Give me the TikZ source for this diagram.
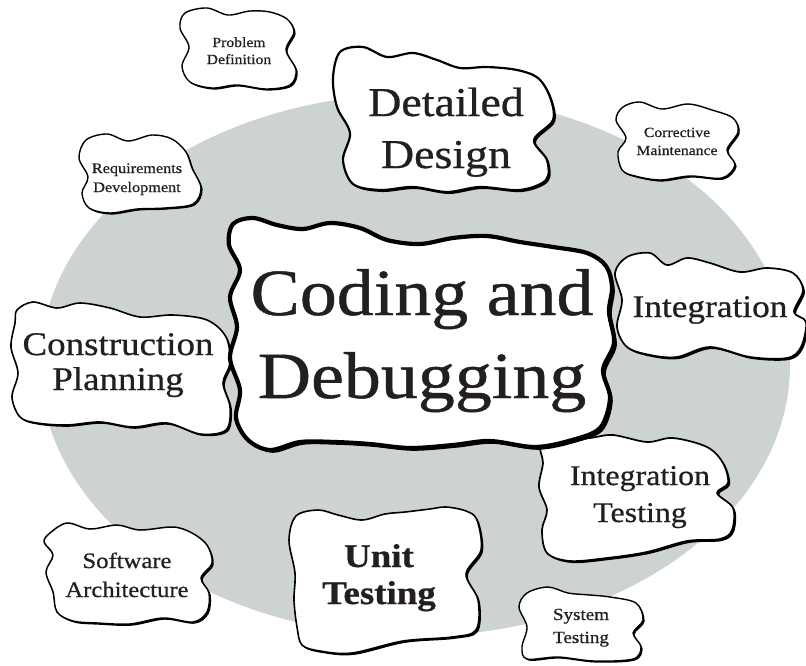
\documentclass[tikz,border=0pt]{standalone}
\usepackage{fontspec}
\setmainfont{Liberation Serif}[FakeStretch=1.12, FakeBold=0.7]
\definecolor{ellgray}{RGB}{205,211,211}
\definecolor{ink}{RGB}{35,31,32}
\tikzset{
  blobface/.style={fill=white, draw=black, line join=round},
  blobshadow/.style={fill=black},
  lbl/.style={anchor=base, inner sep=0pt, text=ink},
}
\newcommand\twol[2]{\begin{tabular}[t]{@{}c@{}}#1\\#2\end{tabular}}
\newcommand\fs[2]{\fontsize{#1}{#2}\selectfont}
% #1 line width, #2 shadow offset, #3 coordinates
\newcommand\drawblob[3]{%
  \fill[blobshadow, xshift=#2pt, yshift=-#2pt] plot[smooth cycle, tension=0.55] coordinates {#3};
  \path[blobface, line width=#1pt] plot[smooth cycle, tension=0.55] coordinates {#3};
}
\begin{document}
\begin{tikzpicture}[x=1pt, y=-1pt]
\useasboundingbox (0,0) rectangle (806,665);
\clip (0,0) rectangle (806,665);
\fill[ellgray] (415,365) ellipse [x radius=375pt, y radius=271pt];

% Problem Definition
\drawblob{1.4}{1.6}{(185,13) (207,8) (228,15) (250,11) (270,12) (287,19) (294,32) (286,50) (296,70) (290,85) (266,89) (237,85) (212,88) (190,82) (182,66) (189,47) (180,28)}
\node[lbl, font=\fs{14}{17}] (pd) at (239,47) {\twol{Problem}{Definition}};

% Detailed Design
\drawblob{2.2}{2.0}{(340,52) (363,47) (387,57) (413,53) (437,60) (460,68) (487,67) (517,70) (538,78) (550,97) (553,120) (534,140) (547,160) (546,180) (520,190) (480,187) (447,192) (413,187) (380,190) (353,184) (343,160) (350,133) (337,107) (333,78)}
\node[lbl, font=\fs{41}{52}] (dd) at (446,116) {\twol{Detailed}{Design}};

% Corrective Maintenance
\drawblob{1.4}{1.6}{(623,107) (640,102) (662,109) (688,104) (712,110) (733,118) (738,132) (727,150) (735,165) (722,178) (690,176) (660,180) (635,176) (622,170) (618,152) (626,138) (616,120)}
\node[lbl, font=\fs{14}{18}] (cm) at (677,137) {\twol{Corrective}{Maintenance}};

% Requirements Development
\drawblob{1.4}{1.6}{(86,140) (107,134) (128,141) (152,135) (172,139) (186,152) (192,168) (201,188) (193,204) (165,208) (137,209) (110,213) (89,208) (82,193) (88,177) (79,158)}
\node[lbl, font=\fs{14.5}{19}] (rd) at (137,173) {\twol{Requirements}{Development}};

% Construction Planning
\drawblob{1.6}{1.8}{(17,310) (33,302) (57,308) (80,303) (110,308) (140,317) (173,315) (207,320) (226,337) (230,363) (223,383) (230,407) (226,430) (200,434) (167,423) (133,427) (100,422) (67,425) (37,423) (20,417) (12,397) (18,373) (11,347) (15,323)}
\node[lbl, font=\fs{33}{35}] (cp) at (118,355) {\twol{Construction}{Planning}};

% Integration
\drawblob{1.7}{2.0}{(627,257) (650,253) (667,265) (687,258) (710,263) (740,272) (767,268) (793,273) (803,290) (794,312) (806,322) (801,347) (787,358) (750,357) (710,347) (677,357) (650,355) (627,347) (617,327) (622,300) (615,273)}
\node[lbl, font=\fs{31.5}{35}] (in) at (710,317) {Integration};

% Integration Testing
\drawblob{1.7}{2.0}{(541,446) (562,440) (590,438) (613,435) (647,442) (673,438) (707,447) (723,463) (728,483) (717,493) (733,508) (732,530) (720,539) (687,541) (647,552) (607,558) (570,561) (547,553) (542,530) (547,510) (539,487) (543,463)}
\node[lbl, font=\fs{28.5}{37}] (it) at (640,485) {\twol{Integration}{Testing}};

% Coding and Debugging
\drawblob{4.2}{2.8}{(233,224) (253,218) (277,225) (303,229) (330,223) (360,228) (387,240) (420,244) (453,238) (487,236) (520,242) (553,247) (587,253) (606,266) (612,287) (609,312) (614,343) (603,370) (610,398) (600,428) (572,440) (535,447) (490,441) (453,445) (410,448) (370,444) (335,442) (300,442) (270,450) (248,440) (236,418) (240,390) (230,358) (237,327) (230,297) (240,270) (229,245)}
\node[lbl, font=\fs{66}{83}] (cd) at (422,315) {\twol{Coding and}{Debugging}};

% Software Architecture
\drawblob{1.5}{1.7}{(50,533) (67,523) (90,529) (117,525) (140,530) (173,527) (192,533) (207,545) (212,563) (201,578) (209,593) (207,612) (193,622) (163,618) (130,624) (97,623) (73,621) (57,612) (53,592) (46,572) (53,555) (44,542)}
\node[lbl, font=\fs{22}{29}] (sa) at (127,568) {\twol{Software}{Architecture}};

% Unit Testing
\drawblob{1.6}{1.9}{(296,516) (318,510) (338,515) (362,520) (385,514) (405,512) (430,509) (446,507) (466,511) (477,520) (481,550) (466,574) (478,600) (476,630) (452,637) (403,641) (352,653) (320,651) (302,645) (297,627) (294,600) (295,573) (289,540)}
\node[lbl, font=\fs{33}{37}\bfseries] (ut) at (379,567) {\twol{Unit}{Testing}};

% System Testing
\drawblob{1.4}{1.6}{(527,593) (548,587) (568,593) (590,595) (610,597) (636,603) (643,620) (633,633) (641,647) (633,659) (594,661) (558,657) (527,659) (522,647) (527,627) (519,607)}
\node[lbl, font=\fs{17}{23}] (st) at (581,620) {\twol{System}{Testing}};
\end{tikzpicture}
\end{document}
